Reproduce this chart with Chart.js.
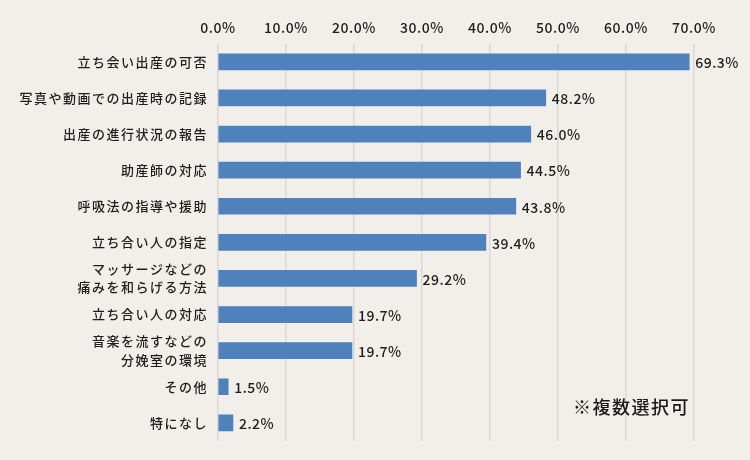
<!DOCTYPE html>
<html><head><meta charset="utf-8">
<script src="https://cdn.jsdelivr.net/npm/chart.js@4.4.1/dist/chart.umd.min.js"></script>
<style>
html,body{margin:0;padding:0;background:#f2eeea;}
#wrap{width:750px;height:460px;position:relative;}
</style></head>
<body><div id="wrap"><canvas id="c" width="750" height="460"></canvas></div>
<script>
const categories = [
  '立ち会い出産の可否',
  '写真や動画での出産時の記録',
  '出産の進行状況の報告',
  '助産師の対応',
  '呼吸法の指導や援助',
  '立ち合い人の指定',
  ['マッサージなどの','痛みを和らげる方法'],
  '立ち合い人の対応',
  ['音楽を流すなどの','分娩室の環境'],
  'その他',
  '特になし'
];
const values = [69.3, 48.2, 46.0, 44.5, 43.8, 39.4, 29.2, 19.7, 19.7, 1.5, 2.2];
const xTicks = [0, 10, 20, 30, 40, 50, 60, 70];
const note = '※複数選択可';

const FONT = "'Noto Sans CJK JP', 'Noto Sans', sans-serif";

const spacingPlugin = {
  id: 'spacing',
  beforeDraw(chart) {
    const ctx = chart.ctx;
    ctx.save();
    ctx.fillStyle = '#f2eeea';
    ctx.fillRect(0, 0, chart.width, chart.height);
    ctx.restore();
    ctx.letterSpacing = '1.5px';
  },
  beforeDatasetsDraw(chart) {
    chart.ctx.letterSpacing = '0.5px';
  },
  afterDatasetsDraw(chart) {
    const ctx = chart.ctx;
    const meta = chart.getDatasetMeta(0);
    ctx.save();
    ctx.letterSpacing = '0.5px';
    ctx.font = '500 14px ' + FONT;
    ctx.fillStyle = '#1e1e1e';
    ctx.textAlign = 'left';
    ctx.textBaseline = 'middle';
    meta.data.forEach((bar, i) => {
      ctx.fillText(values[i].toFixed(1) + '%', bar.x + 6, bar.y + 1);
    });
    ctx.restore();
  },
  afterDraw(chart) {
    const ctx = chart.ctx;
    ctx.save();
    ctx.letterSpacing = '1.5px';
    ctx.font = '500 18px ' + FONT;
    ctx.fillStyle = '#1a1a1a';
    ctx.textAlign = 'right';
    ctx.textBaseline = 'middle';
    ctx.fillText(note, chart.chartArea.right - 4, chart.chartArea.bottom - 34);
    ctx.restore();
  }
};

new Chart(document.getElementById('c'), {
  type: 'bar',
  data: {
    labels: categories,
    datasets: [{
      data: values,
      backgroundColor: '#4f81bd',
      borderWidth: 0,
      barThickness: 16
    }]
  },
  options: {
    indexAxis: 'y',
    responsive: false,
    animation: false,
    layout: { padding: { top: 11, right: 56, bottom: 18, left: 0 } },
    plugins: { legend: { display: false }, tooltip: { enabled: false } },
    scales: {
      x: {
        position: 'top',
        min: 0, max: 70,
        afterBuildTicks(scale) { scale.ticks = xTicks.map(v => ({ value: v })); },
        grid: { color: '#dcd8d3', lineWidth: 1.5, drawTicks: false },
        border: { display: false },
        ticks: {
          z: 1,
          padding: 8,
          color: '#1e1e1e',
          font: { family: FONT, size: 14, weight: 500 },
          callback: v => v.toFixed(1) + '%'
        }
      },
      y: {
        grid: { display: false, drawTicks: false },
        border: { display: false },
        afterFit(scale) { scale.width = 218; },
        ticks: {
          z: 0,
          padding: 10,
          color: '#1e1e1e',
          font: { family: FONT, size: 13, weight: 500, lineHeight: 1.4 },
          autoSkip: false
        }
      }
    }
  },
  plugins: [spacingPlugin]
});
</script>
</body></html>
